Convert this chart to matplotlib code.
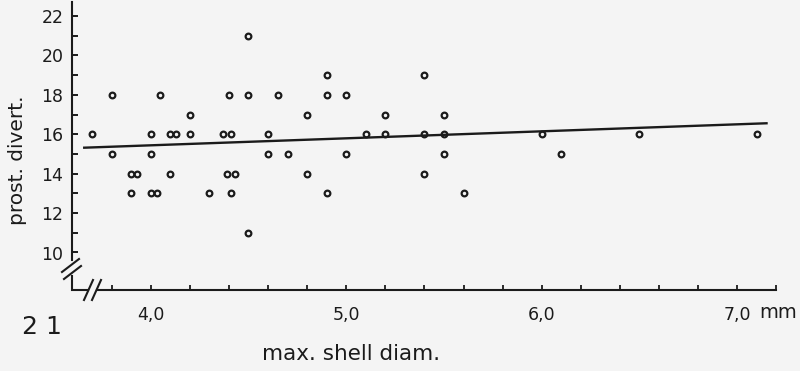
import matplotlib
matplotlib.use("Agg")
import matplotlib.pyplot as plt

# ---- data ----
shell_diam = [3.70, 3.80, 3.80, 3.90, 3.93, 3.90, 4.00, 4.00, 4.00, 4.03, 4.05,
              4.10, 4.13, 4.10, 4.20, 4.20, 4.30,
              4.37, 4.41, 4.39, 4.43, 4.41, 4.40, 4.50, 4.50, 4.50, 4.60, 4.60,
              4.65, 4.70, 4.80, 4.80, 4.90, 4.90, 4.90,
              5.00, 5.00, 5.10, 5.20, 5.20, 5.40, 5.40, 5.40, 5.50, 5.50, 5.50,
              5.60, 6.00, 6.10, 6.50, 7.10]
prost_divert = [16, 18, 15, 14, 14, 13, 16, 15, 13, 13, 18,
                16, 16, 14, 17, 16, 13,
                16, 16, 14, 14, 13, 18, 21, 18, 11, 16, 15,
                18, 15, 17, 14, 19, 18, 13,
                18, 15, 16, 17, 16, 19, 16, 14, 17, 16, 15,
                13, 16, 15, 16, 16]

line_x = [3.66, 7.15]
line_y = [15.32, 16.56]

x_major = [4.0, 5.0, 6.0, 7.0]
x_major_labels = ["4,0", "5,0", "6,0", "7,0"]
x_minor = [3.8, 4.2, 4.4, 4.6, 4.8, 5.2, 5.4, 5.6, 5.8, 6.2, 6.4, 6.6, 6.8, 7.2]
y_major = [10, 12, 14, 16, 18, 20, 22]
y_minor = [11, 13, 15, 17, 19, 21]

x_label = "max. shell diam."
y_label = "prost. divert."
unit_label = "mm"
panel_label = "2 1"

# ---- figure ----
W, H = 800, 371
ink = "#1b1b1b"
bg = "#f4f4f4"
plt.rcParams["font.family"] = ["DejaVu Sans"]

fig = plt.figure(figsize=(W / 100, H / 100), dpi=100, facecolor=bg)

left_px, bottom_px, right_px, top_px = 71.7, 290.0, 790.0, 2.0
ax = fig.add_axes([left_px / W, (H - bottom_px) / H,
                   (right_px - left_px) / W, (bottom_px - top_px) / H])
ax.set_facecolor(bg)

# pixel -> data scale
sx = 195.5   # px per mm
sy = 19.7    # px per unit
x0 = 4.0 + (left_px - 150.7) / sx
x1 = 4.0 + (right_px - 150.7) / sx
y0 = 16 - (bottom_px - 134.3) / sy
y1 = 16 + (134.3 - top_px) / sy
ax.set_xlim(x0, x1)
ax.set_ylim(y0, y1)

# data
ax.plot(shell_diam, prost_divert, linestyle="none", marker="o", ms=4.1,
        mfc="none", mec=ink, mew=1.6, zorder=3)
ax.plot(line_x, line_y, color=ink, lw=1.7, zorder=2)

# spines
for s in ["top", "right"]:
    ax.spines[s].set_visible(False)
ax.spines["left"].set_color(ink)
ax.spines["bottom"].set_color(ink)
ax.spines["left"].set_linewidth(1.5)
ax.spines["bottom"].set_linewidth(1.5)
ax.spines["left"].set_bounds(16 - (260 - 134.3) / sy, y1)
ax.spines["bottom"].set_bounds(4.0 + (97 - 150.7) / sx, 7.2)

# break stubs and slashes
def px2d(px, py):
    return 4.0 + (px - 150.7) / sx, 16 - (py - 134.3) / sy

stub = [px2d(left_px, 276), px2d(left_px, bottom_px), px2d(88, bottom_px)]
ax.plot([p[0] for p in stub], [p[1] for p in stub], color=ink, lw=1.5,
        clip_on=False, solid_joinstyle="miter")
for (ax_, ay_, bx_, by_) in [(62, 272, 79, 259), (64, 279, 81, 266),
                              (84, 300, 93, 280), (92, 300, 101, 280)]:
    a = px2d(ax_, ay_)
    b = px2d(bx_, by_)
    ax.plot([a[0], b[0]], [a[1], b[1]], color=ink, lw=1.5, clip_on=False)

# ticks
ax.set_xticks(x_major)
ax.set_xticklabels(x_major_labels)
ax.set_xticks(x_minor, minor=True)
ax.set_yticks(y_major)
ax.set_yticks(y_minor, minor=True)
ax.tick_params(axis="x", which="both", direction="in", length=3.5, width=1.3,
               color=ink, labelcolor=ink, labelsize=12.5, pad=11.5)
ax.tick_params(axis="y", which="both", direction="in", length=4.5, width=1.4,
               color=ink, labelcolor=ink, labelsize=12.5, pad=6)

# labels
fig.text(797 / W, (H - 313) / H, unit_label, ha="right", va="center",
         fontsize=14, color=ink)
fig.text(351 / W, (H - 354) / H, x_label, ha="center", va="center",
         fontsize=15.5, color=ink)
fig.text(18 / W, (H - 160) / H, y_label, ha="center", va="center",
         rotation=90, fontsize=14.5, color=ink)
fig.text(42 / W, (H - 327) / H, panel_label, ha="center", va="center",
         fontsize=18, color=ink)

fig.savefig("out.png", dpi=100, facecolor=bg)
